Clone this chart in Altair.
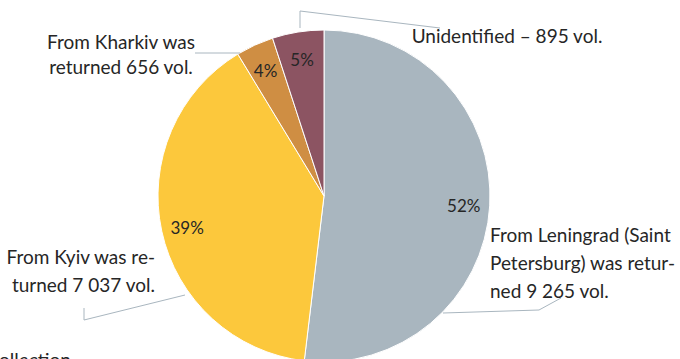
import altair as alt
import pandas as pd

# ---- data ----
categories = ["Leningrad", "Kyiv", "Kharkiv", "Unidentified"]
volumes = [9265, 7037, 656, 895]
slice_order = [1, 2, 3, 4]
colors = ["#A9B6BF", "#FCC83C", "#CF8E43", "#8C5462"]

label_kharkiv = ["From Kharkiv was", "returned 656 vol."]
label_unident = "Unidentified \u2013 895 vol."
label_kyiv = ["From Kyiv was re-", "turned 7 037 vol."]
label_lenin = ["From Leningrad (Saint", "Petersburg) was retur-", "ned 9 265 vol."]
footer_text = "ollection"

df = pd.DataFrame({"category": categories, "volumes": volumes, "order": slice_order})
one = pd.DataFrame({"k": [0]})

FONT = "Lato"
FS = 17
LFS = 19
TXT = "#262626"
LINE = "#A9B6BF"
CX, CY, R = 324, 196, 166

base = alt.Chart(df).encode(
    theta=alt.Theta("volumes:Q", stack=True),
    order=alt.Order("order:Q"),
    color=alt.Color("category:N", scale=alt.Scale(domain=categories, range=colors), legend=None),
)

pie = base.mark_arc(outerRadius=R, stroke="white", strokeWidth=1).encode(
    x=alt.value(CX), y=alt.value(CY)
)

pct = base.transform_joinaggregate(total="sum(volumes)").transform_calculate(
    pct="datum.volumes / datum.total"
).mark_text(radius=140, font=FONT, fontSize=FS, color=TXT, baseline="middle", align="center").encode(
    x=alt.value(CX), y=alt.value(CY + 3), text=alt.Text("pct:Q", format=".0%"),
    color=alt.value(TXT)
)

def txt(text, x, y, align, lh=28):
    return alt.Chart(one).mark_text(
        text=text, font=FONT, fontSize=LFS, color=TXT, align=align, baseline="middle", lineHeight=lh
    ).encode(x=alt.value(x), y=alt.value(y))

def seg(x1, y1, x2, y2):
    return alt.Chart(one).mark_rule(color=LINE, strokeWidth=1).encode(
        x=alt.value(x1), y=alt.value(y1), x2=alt.value(x2), y2=alt.value(y2)
    )

labels = [
    txt(label_kharkiv, 121, 43, "center", 25),
    txt(label_unident, 507, 37, "center"),
    txt(label_kyiv, 155, 258, "right"),
    txt(label_lenin, 490, 236, "left"),
    txt(footer_text, -1, 361, "left"),
]

lines = [
    seg(195, 53, 240, 53),
    seg(300, 28, 300, 11),
    seg(300, 11, 440, 28),
    seg(185, 295, 84, 320),
    seg(84, 320, 84, 308),
    seg(443, 313, 539, 310),
    seg(539, 310, 561, 298),
]

chart = alt.layer(pie, pct, *lines, *labels).properties(
    width=680, height=359, padding=0, autosize=alt.AutoSizeParams(type="none"),
    background="white"
).configure_view(stroke=None)

chart.save("out.html", embed_options={"renderer": "svg", "actions": False})
